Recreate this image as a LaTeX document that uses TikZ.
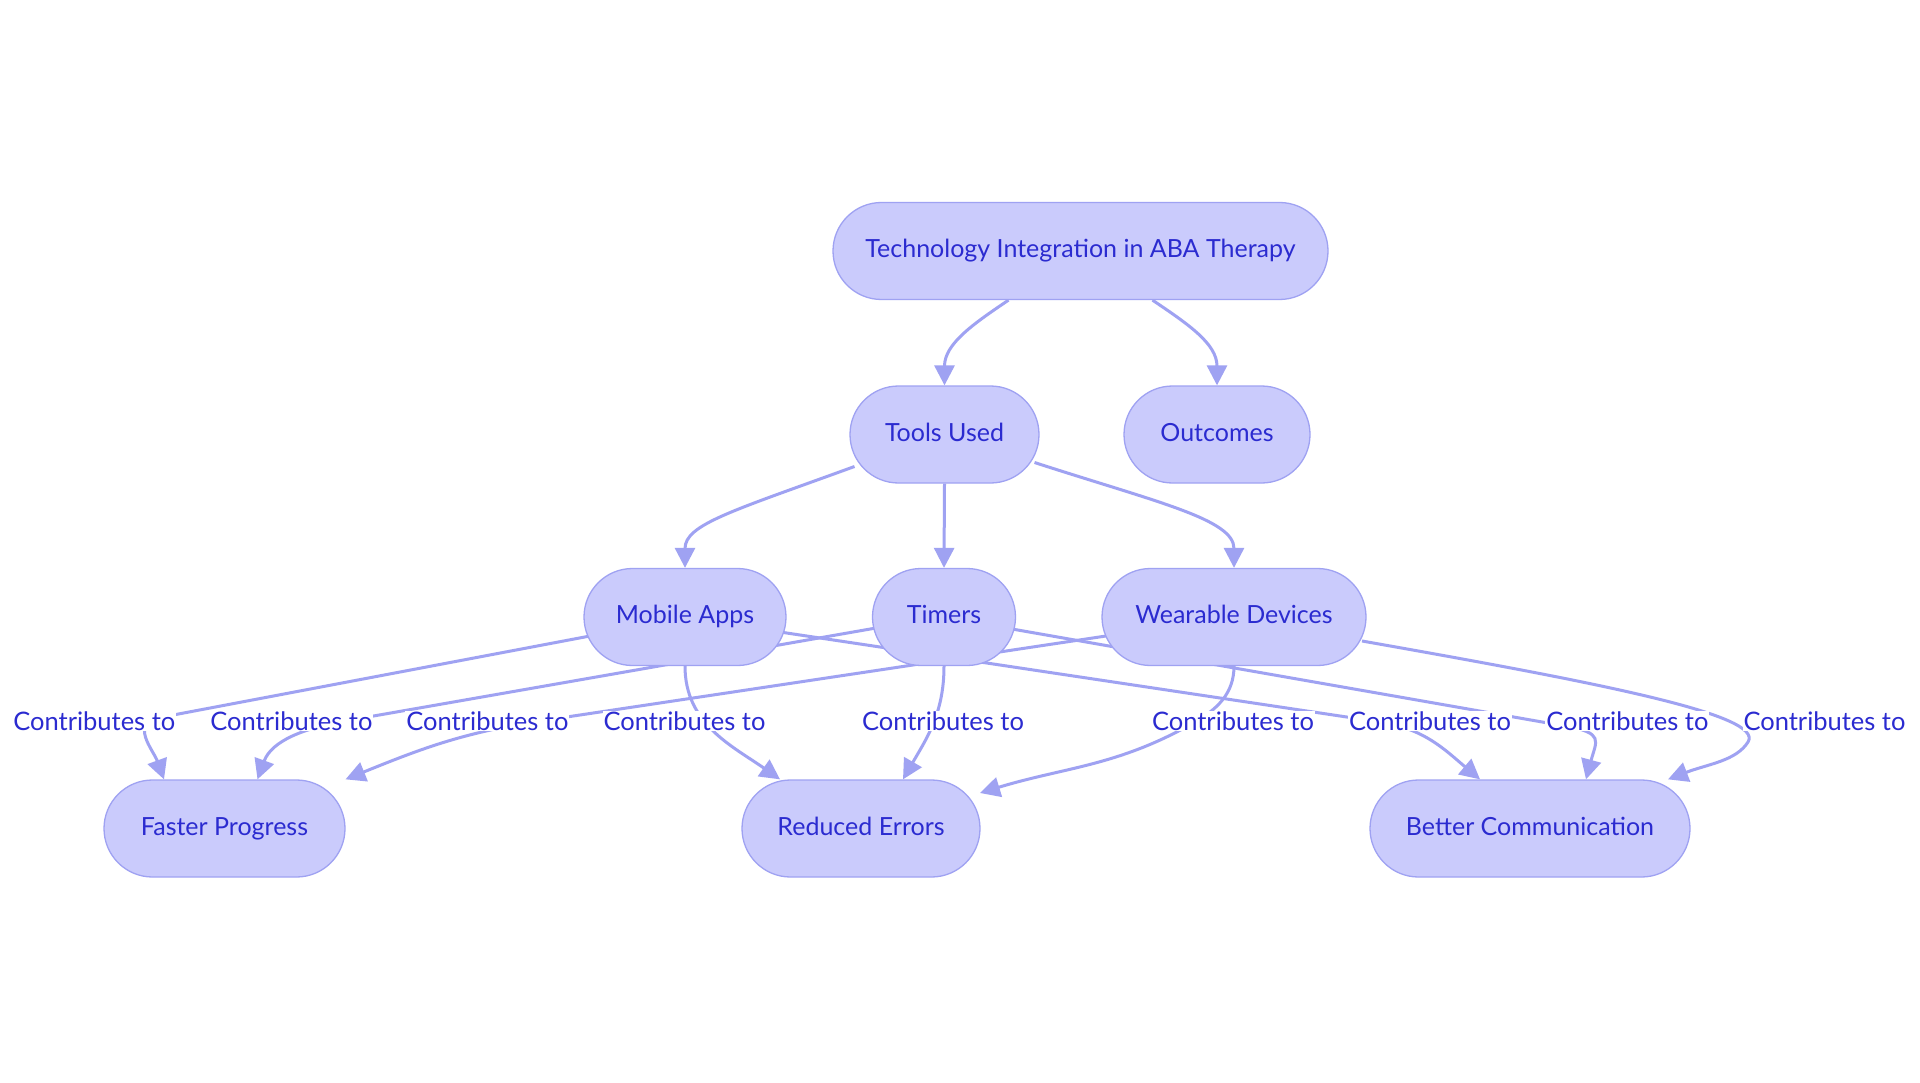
\documentclass[tikz,border=0pt]{standalone}
\usepackage{fontspec}
\setmainfont{Lato}
\usetikzlibrary{shapes.misc,arrows.meta,calc}
\definecolor{nfill}{HTML}{CACBFC}
\definecolor{nline}{HTML}{9FA2F2}
\definecolor{ntext}{HTML}{2B2BD0}
\pgfdeclarelayer{paper}
\pgfdeclarelayer{bg}
\pgfsetlayers{paper,bg,main}
\begin{document}
\begin{tikzpicture}[x=1pt,y=1pt,
  box/.style={rounded rectangle, draw=nline, line width=1.3pt, fill=nfill, text=ntext,
    minimum height=97pt, inner sep=0pt, text height=18pt, text depth=5pt,
    font=\fontsize{25}{30}\selectfont},
  edge/.style={draw=nline, line width=3pt, -{Triangle[length=20pt,width=20pt]}},
  lab/.style={fill=white, text=ntext, inner xsep=1pt, inner ysep=1pt,
    text height=18.4pt, text depth=0pt, font=\fontsize{25.5}{30}\selectfont}]
\useasboundingbox (0,0) rectangle (1920,-1083);
\begin{pgfonlayer}{paper}
\fill[white] (0,0) rectangle (1920,-1083);
\end{pgfonlayer}

\node[box, minimum width=495pt] (tech) at (1080.5,-251) {Technology Integration in ABA Therapy};
\node[box, minimum width=189pt] (tools) at (944.5,-434.5) {Tools Used};
\node[box, minimum width=186pt] (out) at (1217,-434.5) {Outcomes};
\node[box, minimum width=202pt] (ma) at (685,-617) {Mobile Apps};
\node[box, minimum width=143pt] (tim) at (944,-617) {Timers};
\node[box, minimum width=264pt] (wd) at (1234,-617) {Wearable Devices};
\node[box, minimum width=241pt] (fp) at (224.5,-828.5) {Faster Progress};
\node[box, minimum width=238pt] (re) at (861,-828.5) {Reduced Errors};
\node[box, minimum width=320pt] (bc) at (1530,-828.5) {Better Communication};

\coordinate (v6) at (1195,-722);

\begin{pgfonlayer}{bg}
\draw[edge] ($(tech.south)+(-72,0)$) to[out=214,in=90] (tools.north);
\draw[edge] ($(tech.south)+(72,0)$) to[out=-34,in=90] (out.north);
\draw[edge] ($(tools)+(-90,-32)$) .. controls ($(tools)+(-212,-76.5)$) and ($(ma.north)+(0,43.5)$) .. (ma.north);
\draw[edge] (tools.south) -- (tim.north);
\draw[edge] ($(tools)+(90,-28)$) .. controls ($(tools)+(213.5,-68)$) and ($(wd.north)+(0,48.5)$) .. (wd.north);

\draw[edge] ($(ma)+(-95,-19)$) -- (160,-717.5) to[out=190.7,in=110,looseness=1.3] ($(fp.north)+(-60.5,0)$);
\draw[edge] ($(tim)+(-68,-11)$) -- (345,-721) to[out=190,in=70] ($(fp.north)+(33,0)$);
\draw[edge] ($(wd)+(-128,-19)$) -- (540,-721) to[out=188.5,in=22] ($(fp.north)+(121,0)$);
\draw[edge] (ma.south) to[out=-90,in=145] ($(re.north)+(-81,0)$);
\draw[edge] (tim.south) to[out=-90,in=60] ($(re.north)+(42,0)$);
\draw[edge] (wd.south) to[out=-90,in=30] (v6) to[out=210,in=17] ($(re.center)+(119,35.5)$);
\draw[edge] ($(ma)+(95,-15)$) -- (1380,-722) to[out=-8.5,in=140] ($(bc.north)+(-50,0)$);
\draw[edge] ($(tim)+(68,-12)$) -- (1565,-726) to[out=-10,in=75,looseness=1.8] ($(bc.north)+(56,0)$);
\draw[edge] ($(wd)+(128,-24)$) .. controls (1600,-683) and (1765,-715) .. (1748,-742)
  .. controls (1736,-761) and (1708,-764) .. ($(bc.north)+(138,0)$);
\end{pgfonlayer}

\node[lab] (c1) at (94.3,-721) {Contributes to};
\node[lab] (c2) at (291.4,-721) {Contributes to};
\node[lab] (c3) at (487.4,-721) {Contributes to};
\node[lab] (c4) at (684.5,-721) {Contributes to};
\node[lab] (c5) at (943,-721) {Contributes to};
\node[lab] (c6) at (1233,-721) {Contributes to};
\node[lab] (c7) at (1430,-721) {Contributes to};
\node[lab] (c8) at (1627.4,-721) {Contributes to};
\node[lab] (c9) at (1824.5,-721) {Contributes to};
\end{tikzpicture}
\end{document}
